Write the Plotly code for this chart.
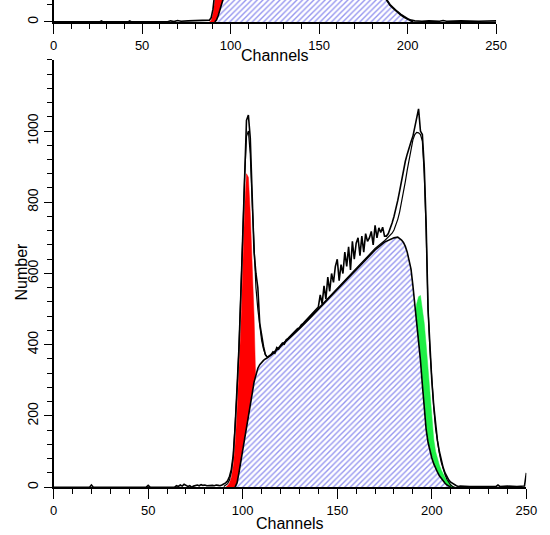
import plotly.graph_objects as go

# --- main histogram (DNA content, channels 0-250) ---
raw_ch = [0, 19, 20, 21, 49, 50, 51, 64, 65, 66, 67, 68, 69, 70, 71, 72, 73, 74, 75, 76, 77, 78, 79,
          80, 81, 82, 83, 84, 85, 86, 87, 88, 89, 90, 91, 92, 93, 94, 95, 96, 97, 98, 99, 100, 101,
          102, 103, 104, 105, 106, 107, 108, 109, 110, 111, 112, 113, 114, 115, 116, 117, 118, 119,
          120, 121, 122, 123, 124, 125, 126, 127, 128, 129, 130, 131, 132, 133, 134, 135, 136, 137,
          138, 139, 140, 141, 142, 143, 144, 145, 146, 147, 148, 149, 150, 151, 152, 153, 154, 155,
          156, 157, 158, 159, 160, 161, 162, 163, 164, 165, 166, 167, 168, 169, 170, 171, 172, 173,
          174, 175, 176, 177, 178, 179, 180, 181, 182, 183, 184, 185, 186, 187, 188, 189, 190, 191,
          192, 193, 194, 195, 196, 197, 198, 199, 200, 201, 202, 203, 204, 205, 206, 207, 208, 209,
          210, 211, 212, 213, 214, 215, 220, 225, 230, 234, 235, 236, 240, 245, 249, 250]
raw_counts = [0, 0, 6, 0, 0, 5, 0, 0, 4, 2, 6, 3, 8, 5, 2, 4, 0, 3, 5, 6, 4, 7, 5,
              6, 4, 5, 6, 5, 4, 6, 5, 4, 6, 8, 12, 18, 30, 50, 90, 170, 270, 390, 540, 720, 920,
              1030, 1045, 980, 820, 660, 600, 560, 460, 420, 395, 372, 365, 368, 372, 380, 376, 392, 388,
              398, 405, 402, 414, 418, 424, 430, 433, 440, 445, 448, 456, 460, 466, 470, 478, 482, 488,
              494, 500, 506, 540, 515, 565, 528, 590, 550, 600, 575, 620, 640, 580, 625, 600, 660, 620,
              675, 610, 690, 640, 685, 700, 650, 705, 660, 712, 690, 700, 718, 680, 735, 700, 728, 715,
              730, 705, 705, 712, 725, 742, 760, 780, 805, 832, 862, 890, 915, 935, 955, 970, 985, 1010,
              1045, 1062, 1000, 990, 900, 740, 500, 380, 300, 230, 170, 130, 100, 75, 55, 40, 28, 20,
              14, 10, 7, 4, 2, 3, 2, 3, 2, 2, 6, 2, 3, 2, 3, 40]

fit_ch = [90, 91, 92, 93, 94, 95, 96, 97, 98, 99, 100, 101, 102, 103, 104, 105, 106, 107, 108, 109,
          110, 111, 112, 113, 116, 120, 125, 130, 135, 140, 145, 150, 155, 160, 165, 170, 175, 176,
          177, 178, 179, 180, 181, 182, 183, 184, 185, 186, 187, 188, 189, 190, 191, 192, 193, 194,
          195, 196, 197, 198, 199, 200, 201, 202, 203, 204, 205, 206, 207, 208, 209, 210, 211, 212]
fit_counts = [2, 5, 10, 20, 42, 85, 165, 270, 390, 530, 700, 870, 985, 1000, 935, 800, 660, 560, 500, 450,
              412, 388, 372, 365, 377, 397, 421, 447, 474, 503, 531, 558, 586, 614, 642, 670, 692, 697,
              702, 707, 713, 722, 735, 752, 773, 798, 826, 858, 890, 922, 952, 975, 990, 996, 995, 990,
              972, 880, 720, 505, 385, 295, 225, 165, 125, 95, 70, 50, 35, 22, 12, 6, 2, 0]

s_ch = [96, 97, 98, 99, 100, 101, 102, 103, 104, 105, 106, 107, 108, 109, 110, 111, 112, 113, 116, 120,
        125, 130, 135, 140, 145, 150, 155, 160, 165, 170, 175, 178, 180, 182, 183, 184, 185, 186, 187,
        188, 189, 190, 191, 192, 193, 194, 195, 196, 197, 198, 199, 200, 201, 202, 203, 204, 205, 206,
        207, 208, 209, 210]
s_counts = [0, 12, 40, 70, 100, 132, 164, 196, 228, 262, 295, 318, 334, 344, 351, 356, 360, 363, 375, 395,
            419, 445, 472, 500, 528, 556, 584, 612, 640, 666, 688, 696, 700, 702, 699, 694, 687, 676, 660,
            640, 612, 566, 518, 468, 414, 356, 288, 210, 162, 126, 100, 82, 66, 52, 42, 32, 24, 17,
            11, 6, 2, 0]

g1_ch = [91, 92, 93, 94, 95, 96, 97, 98, 99, 100, 101, 102, 103, 104, 105, 106, 107, 108, 109, 110, 111, 112]
g1_counts = [0, 4, 12, 28, 60, 120, 210, 320, 450, 610, 780, 880, 870, 770, 640, 480, 270, 120, 45, 15, 4, 0]

g2_ch = [186, 188, 190, 191, 192, 193, 194, 195, 196, 197, 198, 199, 200, 201, 202, 203, 204, 205, 206,
         207, 208, 209, 210, 211, 212]
g2_counts = [100, 250, 420, 480, 515, 535, 538, 505, 460, 400, 330, 255, 185, 135, 100, 78, 62, 48, 36,
             27, 20, 13, 7, 2, 0]

# --- upper panel (only its bottom strip is visible) ---
top_raw_ch = [0, 26, 27, 28, 42, 43, 44, 64, 66, 68, 70, 72, 76, 80, 84, 86, 88, 89, 90, 91, 92, 186, 188,
              190, 192, 194, 196, 198, 200, 202, 204, 208, 212, 218, 220, 222, 230, 240, 250]
top_raw_counts = [0, 0, 3, 0, 0, 3, 0, 0, 3, 1, 4, 2, 3, 4, 3, 4, 5, 12, 35, 80, 150, 90, 64,
                  49, 38, 30, 22, 15, 9, 5, 3, 2, 3, 2, 4, 2, 3, 2, 3]
top_s_ch = [91, 92, 93, 94, 95, 96, 97, 186, 188, 190, 192, 194, 196, 198, 200, 202, 203]
top_s_counts = [0, 5, 18, 33, 50, 68, 90, 88, 62, 47, 37, 28, 20, 13, 7, 2, 0]
top_g1_ch = [88, 89, 90, 91, 92, 93, 94, 95, 96, 97, 98]
top_g1_counts = [0, 4, 22, 52, 90, 140, 200, 260, 240, 150, 60]

W, H = 550, 535
FONT = "Liberation Sans, Arial, sans-serif"
hatch = dict(shape="/", fgcolor="#2d2de0", bgcolor="white", size=4, solidity=0.35)


def add_panel(fig, xa, ya, raw_x, raw_y, s_x, s_y, g1_x, g1_y, g2_x=None, g2_y=None, fit_x=None, fit_y=None):
    fig.add_trace(go.Scatter(x=g1_x, y=g1_y, mode="lines", fill="tozeroy", fillcolor="#ff0000",
                             line=dict(color="#ff0000", width=0.5), xaxis=xa, yaxis=ya))
    if g2_x is not None:
        fig.add_trace(go.Scatter(x=g2_x, y=g2_y, mode="lines", fill="tozeroy", fillcolor="#1fef45",
                                 line=dict(color="#1fef45", width=0.5), xaxis=xa, yaxis=ya))
    fig.add_trace(go.Scatter(x=s_x, y=s_y, mode="lines", fill="tozeroy", fillpattern=hatch,
                             fillcolor="rgba(0,0,0,0)", line=dict(color="black", width=1.6),
                             xaxis=xa, yaxis=ya))
    if fit_x is not None:
        fig.add_trace(go.Scatter(x=fit_x, y=fit_y, mode="lines", line=dict(color="black", width=1.2),
                                 xaxis=xa, yaxis=ya))
    fig.add_trace(go.Scatter(x=raw_x, y=raw_y, mode="lines", line=dict(color="black", width=1.6),
                             xaxis=xa, yaxis=ya))


fig = go.Figure()
add_panel(fig, "x", "y", raw_ch, raw_counts, s_ch, s_counts, g1_ch, g1_counts,
          g2_ch, g2_counts, fit_ch, fit_counts)
add_panel(fig, "x2", "y2", top_raw_ch, top_raw_counts, top_s_ch, top_s_counts, top_g1_ch, top_g1_counts)

xstyle = dict(range=[0, 250], dtick=50, tick0=0, ticks="outside", ticklen=10, tickwidth=1.2,
              tickcolor="black", showline=True, linecolor="black", linewidth=2, showgrid=False,
              zeroline=False, tickfont=dict(family=FONT, size=13, color="black"),
              minor=dict(dtick=10, ticks="outside", ticklen=5, tickwidth=1.2, tickcolor="black"))
ystyle = dict(ticks="outside", ticklen=8, tickwidth=1.2, tickcolor="black", showline=True,
              linecolor="black", linewidth=1.5, showgrid=False, zeroline=False, tickangle=-90,
              tickfont=dict(family=FONT, size=14, color="black"))

title_font = dict(family=FONT, size=16, color="black")

fig.update_layout(
    width=W, height=H,
    margin=dict(l=0, r=0, t=0, b=0),
    paper_bgcolor="white", plot_bgcolor="white",
    showlegend=False,
    xaxis=dict(xstyle, domain=[51 / W, 537 / W], anchor="y"),
    yaxis=dict(ystyle, domain=[(H - 489) / H, (H - 60) / H], range=[0, 1200], anchor="x",
               tickmode="array", tickvals=[0, 200, 400, 600, 800, 1000],
               minor=dict(dtick=40, ticks="outside", ticklen=5, tickwidth=1.2, tickcolor="black")),
    xaxis2=dict(xstyle, domain=[51 / W, 506 / W], anchor="y2"),
    yaxis2=dict(ystyle, domain=[(H - 22) / H, 1], range=[0, 61.6], anchor="x2",
                tickmode="array", tickvals=[0],
                minor=dict(tickmode="array", tickvals=[48], ticks="outside", ticklen=5,
                           tickwidth=1.2, tickcolor="black")),
    annotations=[
        dict(text="Channels", x=294 / W, y=(H - 525) / H, xref="paper", yref="paper",
             showarrow=False, font=title_font, xanchor="center", yanchor="middle"),
        dict(text="Channels", x=278.5 / W, y=(H - 56) / H, xref="paper", yref="paper",
             showarrow=False, font=title_font, xanchor="center", yanchor="middle"),
        dict(text="Number", x=18 / W, y=(H - 273) / H, xref="paper", yref="paper", textangle=-90,
             showarrow=False, font=title_font, xanchor="center", yanchor="middle"),
    ],
)

# drop the page's default body margin so the figure sits at the window's top-left corner
fig.write_html("out.html", config={"displayModeBar": False},
               post_script="document.body.style.margin='0';document.body.style.overflow='hidden';")
